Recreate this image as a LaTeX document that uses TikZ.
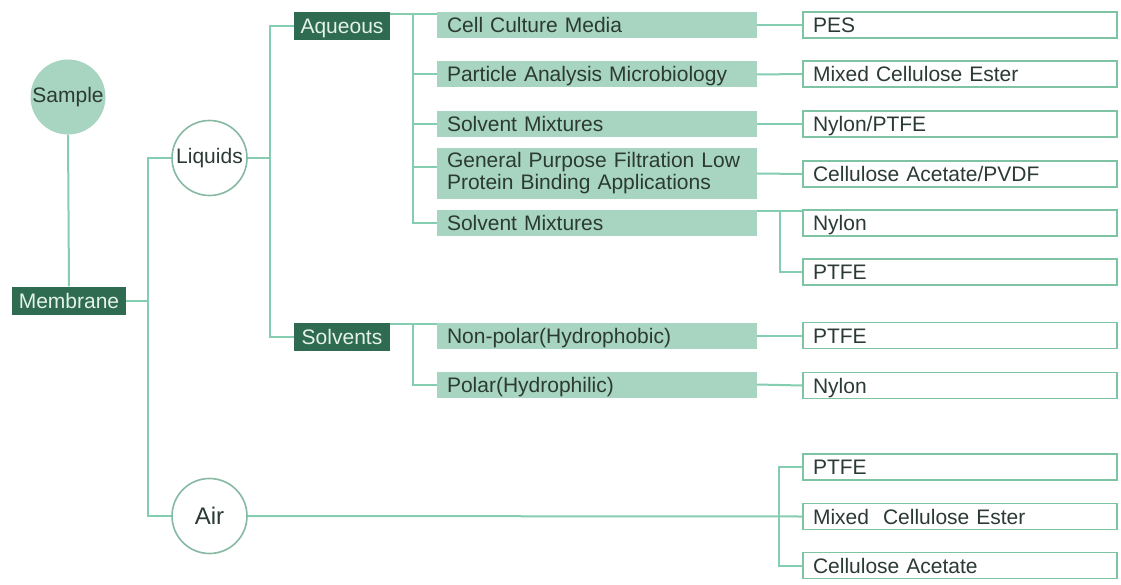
\documentclass[tikz,border=0pt]{standalone}
\usepackage{fontspec}
\setmainfont{Liberation Sans}
\definecolor{dkgreen}{HTML}{2F6B50}
\definecolor{ltgreen}{HTML}{A8D5C1}
\definecolor{lnc}{HTML}{84CDB0}
\definecolor{boxline}{HTML}{7DC3A4}
\definecolor{circline}{HTML}{86B9A2}
\definecolor{txt}{HTML}{2B3A33}
\definecolor{wtxt}{HTML}{E4F2EA}
\newcommand{\fsz}{\fontsize{21}{22}\selectfont}
\begin{document}
\begin{tikzpicture}[x=1pt,y=-1pt,
  conn/.style={draw=lnc, line width=2pt},
  fixh/.style={text height=17pt, text depth=2pt},
  darkbox/.style={fill=dkgreen, text=wtxt, minimum height=28, minimum width=96, inner sep=0pt, font=\fsz, fixh},
  ring/.style={circle, draw=circline, line width=1.6pt, fill=white, minimum size=75, inner sep=0pt, text=txt, font=\fsz},
  itembox/.style={fill=ltgreen, text=txt, text width=300pt, inner xsep=10pt, inner ysep=0pt, minimum height=26, align=left, font=\fsz},
  matbox/.style={draw=boxline, line width=1.8pt, fill=white, text=txt, text width=294pt, inner xsep=10pt, inner ysep=0pt, minimum height=26, align=left, font=\fsz, fixh}]
\useasboundingbox (0,0) rectangle (1121,585);
% left side
\node[circle, fill=ltgreen, minimum size=75, inner sep=0pt, text=txt, font=\fsz] (sample) at (68,97) {Sample};
\node[darkbox, minimum width=114] (membrane) at (69,300.5) {Membrane};
\node[ring] (liquids) at (209.5,158) {Liquids};
\node[ring, font=\fontsize{24}{26}\selectfont] (air) at (209.5,516) {Air};
\node[darkbox] (aqueous) at (342,26.5) {Aqueous};
\node[darkbox] (solvents) at (342,336.5) {Solvents};
% items
\node[itembox, fixh] (i1) at (597,25) {Cell Culture Media};
\node[itembox, fixh] (i2) at (597,74.5) {Particle Analysis Microbiology};
\node[itembox, fixh] (i3) at (597,124) {Solvent Mixtures};
\node[itembox, minimum height=51] (i4) at (597,173.5) {General Purpose Filtration Low\\Protein Binding Applications};
\node[itembox, fixh] (i5) at (597,223) {Solvent Mixtures};
\node[itembox, fixh] (i6) at (597,335.5) {Non-polar(Hydrophobic)};
\node[itembox, fixh] (i7) at (597,384.5) {Polar(Hydrophilic)};
% material boxes
\node[matbox] (b1) at (960,25) {PES};
\node[matbox] (b2) at (960,74) {Mixed Cellulose Ester};
\node[matbox] (b3) at (960,124) {Nylon/PTFE};
\node[matbox] (b4) at (960,174) {Cellulose Acetate/PVDF};
\node[matbox] (b5) at (960,223) {Nylon};
\node[matbox] (b6) at (960,272) {PTFE};
\node[matbox] (b7) at (960,335.5) {PTFE};
\node[matbox] (b8) at (960,385.5) {Nylon};
\node[matbox] (b9) at (960,467) {PTFE};
\node[matbox] (b10) at (960,516.5) {Mixed\ \ Cellulose Ester};
\node[matbox] (b11) at (960,565.5) {Cellulose Acetate};
% junction coordinates
\coordinate (j1) at (148,300.5);
\coordinate (j2) at (270,158);
\coordinate (j3) at (413,14);
\coordinate (j4) at (413,324);
\coordinate (j5) at (780,211);
\coordinate (j6) at (779,516.5);
% connectors
\draw[conn] (sample.south) -- (membrane.north);
\draw[conn] (membrane.east) -- (j1);
\draw[conn] (liquids.west) -| (j1) |- (air.west);
\draw[conn] (liquids.east) -- (j2);
\draw[conn] (aqueous.west) -| (j2) |- (solvents.west);
\draw[conn] (aqueous.east |- j3) -- (i1.west |- j3);
\draw[conn] (j3) |- (i5.west);
\draw[conn] (j3 |- i2.west) -- (i2.west);
\draw[conn] (j3 |- i3.west) -- (i3.west);
\draw[conn] (j3 |- 0,167) -- (i4.west |- 0,167);
\draw[conn] (solvents.east |- j4) -- (i6.west |- j4);
\draw[conn] (j4) |- (i7.west);
\draw[conn] (i1.east) -- (b1.west);
\draw[conn] (i2.east) -- (b2.west);
\draw[conn] (i3.east) -- (b3.west);
\draw[conn] (i4.east) -- (b4.west);
\draw[conn] (i5.east |- j5) -- (b5.west |- j5);
\draw[conn] (j5) |- (b6.west);
\draw[conn] (i6.east) -- (b7.west);
\draw[conn] (i7.east) -- (b8.west);
\draw[conn] (air.east) -- (b10.west);
\draw[conn] (b9.west) -| (j6) |- (b11.west);
\end{tikzpicture}
\end{document}
